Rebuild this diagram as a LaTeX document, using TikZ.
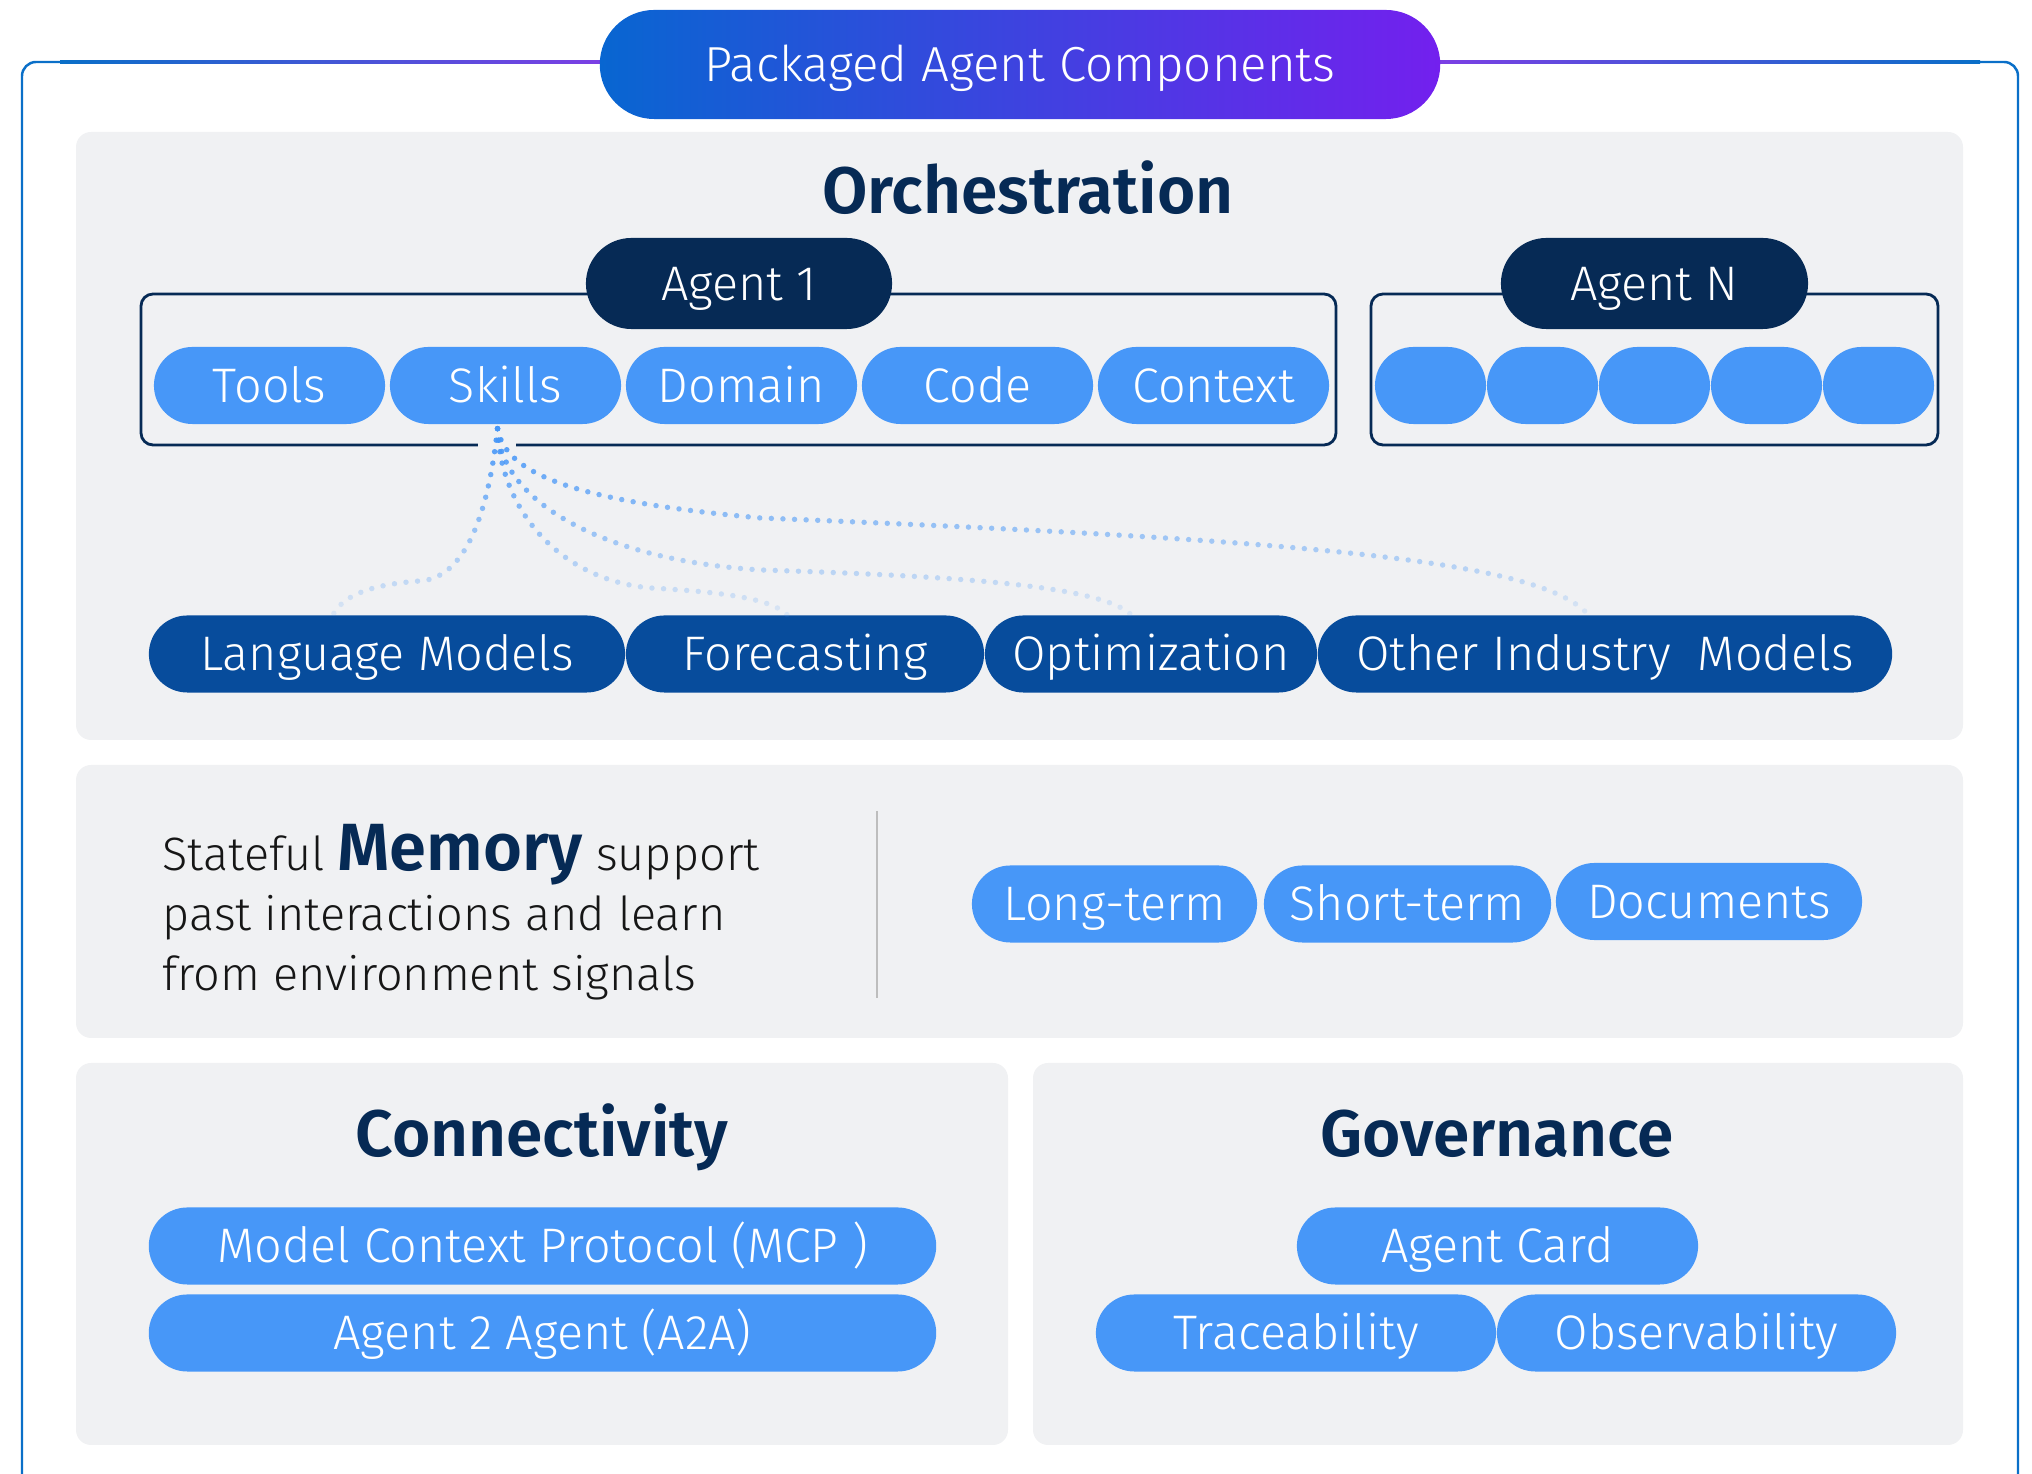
\documentclass[tikz,border=0pt]{standalone}
\usepackage{fontspec}
\setmainfont{Fira Sans}[UprightFont={* Light}, BoldFont={* SemiBold}]
\usetikzlibrary{calc,fadings}

\definecolor{agentnavy}{HTML}{062A55}
\definecolor{pillblue}{HTML}{4797F8}
\definecolor{modelblue}{HTML}{074C9C}
\definecolor{panelgray}{HTML}{F0F1F3}
\definecolor{frameblue}{HTML}{0A6FC8}
\definecolor{framepurple}{HTML}{7B3FE4}
\definecolor{titleblue}{HTML}{0866D1}
\definecolor{titlepurple}{HTML}{7320EE}
\definecolor{dividergray}{HTML}{BDBDBD}
\definecolor{textdark}{HTML}{161616}

% opaque in the upper half, fading out at the lower end
\tikzfading[name=fadedown, top color=transparent!0, middle color=transparent!0, bottom color=transparent!90]

\begin{document}
\begin{tikzpicture}[x=0.01cm, y=0.01cm,
    pill/.style={rectangle, rounded corners=0.385cm, minimum height=0.77cm, inner sep=0pt,
      text height=12pt, text depth=2.5pt, text=white, font=\fontsize{13.8}{17}\selectfont},
    skillpill/.style={pill, fill=pillblue, minimum width=2.31cm},
    agentpill/.style={pill, fill=agentnavy, minimum height=0.91cm, rounded corners=0.455cm},
    modelpill/.style={pill, fill=modelblue},
    panel/.style={fill=panelgray, rounded corners=0.15cm},
    headline/.style={anchor=base, text=agentnavy, font=\bfseries\fontsize{18.7}{23}\selectfont},
    groupbox/.style={draw=agentnavy, line width=0.8pt, rounded corners=0.12cm},
    skilllink/.style={draw=pillblue, line width=1.55pt, line cap=round,
      dash pattern=on 0pt off 3.3pt, path fading=fadedown}]
  \useasboundingbox (0,0) rectangle (2032,-1474);

  % The outer frame with the packaged title on top
  \draw[frameblue, line width=0.7pt, rounded corners=0.14cm] (22,-62) rectangle (2018,-1530);
  \shade[left color=frameblue, right color=framepurple] (60,-60.8) rectangle (600,-63.2);
  \shade[left color=framepurple, right color=frameblue] (1440,-60.8) rectangle (1980,-63.2);
  \node[pill, minimum width=8.4cm, minimum height=1.09cm, rounded corners=0.545cm,
    left color=titleblue, right color=titlepurple, font=\fontsize{14}{17}\selectfont]
    (title) at (1020,-64.5) {Packaged Agent Components};

  % Grey panels
  \fill[panel] (76,-132) rectangle (1963,-740);
  \fill[panel] (76,-765) rectangle (1963,-1038);
  \fill[panel] (76,-1063) rectangle (1008,-1445);
  \fill[panel] (1033,-1063) rectangle (1963,-1445);

  % Orchestration
  \node[headline] (orch) at (1028,-214) {Orchestration};

  \draw[groupbox] (141,-294) rectangle (1336,-445);
  \fill[panelgray] (478,-439) rectangle (516,-450);
  \node[agentpill, minimum width=3.06cm] (agent1) at (739,-283.5) {Agent 1};
  \foreach \n/\t [count=\i from 0] in {tools/Tools, skills/Skills, domain/Domain, code/Code, context/Context} {
    \node[skillpill] (\n) at (269.5+236*\i,-385.5) {\t};
  }

  \draw[groupbox] (1371,-294) rectangle (1938,-445);
  \node[agentpill, minimum width=3.07cm] (agentN) at (1654.5,-283.5) {Agent N};
  \foreach \i in {0,...,4} {
    \node[skillpill, minimum width=1.11cm] (slot\i) at (1430.5+112*\i,-385.5) {};
  }

  % Models the skills draw on
  \node[modelpill, minimum width=4.76cm] (langmod) at (387,-654) {Language Models};
  \node[modelpill, minimum width=3.58cm] (forecast) at (805,-654) {Forecasting};
  \node[modelpill, minimum width=3.32cm] (optim) at (1151,-654) {Optimization};
  \node[modelpill, minimum width=5.74cm] (othermod) at (1605,-654) {Other Industry~ Models};

  % Dotted links from Skills down to the models
  \coordinate (skillfoot) at ($(skills.south)+(-8,-4)$);
  \draw[skilllink] (skillfoot) .. controls (490,-500) and (470,-578) .. (420,-581)
    .. controls (380,-584) and (345,-592) .. ($(langmod.north)+(-54,0)$);
  \draw[skilllink] (skillfoot) .. controls (500,-510) and (560,-580) .. (650,-588)
    .. controls (720,-592) and (770,-598) .. ($(forecast.north)+(-18,0)$);
  \draw[skilllink] (skillfoot) .. controls (500,-500) and (600,-560) .. (760,-570)
    .. controls (950,-576) and (1100,-585) .. ($(optim.north)+(-20,0)$);
  \draw[skilllink] (skillfoot) .. controls (505,-470) and (560,-500) .. (760,-518)
    .. controls (1300,-540) and (1540,-560) .. ($(othermod.north)+(-17,0)$);

  % Memory
  \node[anchor=west, align=left, inner sep=0pt, text=textdark, font=\fontsize{13.3}{17}\selectfont] (memtext) at (162,-912)
    {Stateful {\bfseries\color{agentnavy}\fontsize{19}{17}\selectfont Memory} support\\
     past interactions and learn\\
     from environment signals};
  \draw[dividergray, line width=0.8pt] (877,-811) -- (877,-998);
  \node[skillpill, minimum width=2.85cm] (longterm) at (1114.5,-904) {Long-term};
  \node[skillpill, minimum width=2.87cm] (shortterm) at (1407.5,-904) {Short-term};
  \node[skillpill, minimum width=3.06cm] (documents) at (1709,-901.5) {Documents};

  % Connectivity
  \node[headline] (conn) at (542,-1157) {Connectivity};
  \node[skillpill, minimum width=7.87cm] (mcp) at (542.5,-1246) {Model Context Protocol (MCP )};
  \node[skillpill, minimum width=7.87cm] (a2a) at (542.5,-1333) {Agent 2 Agent (A2A)};

  % Governance
  \node[headline] (gov) at (1497,-1157) {Governance};
  \node[skillpill, minimum width=4.01cm] (agentcard) at (1497.5,-1246) {Agent Card};
  \node[skillpill, minimum width=4.0cm] (trace) at (1296,-1333) {Traceability};
  \node[skillpill, minimum width=3.99cm] (observ) at (1696.5,-1333) {Observability};
\end{tikzpicture}
\end{document}
